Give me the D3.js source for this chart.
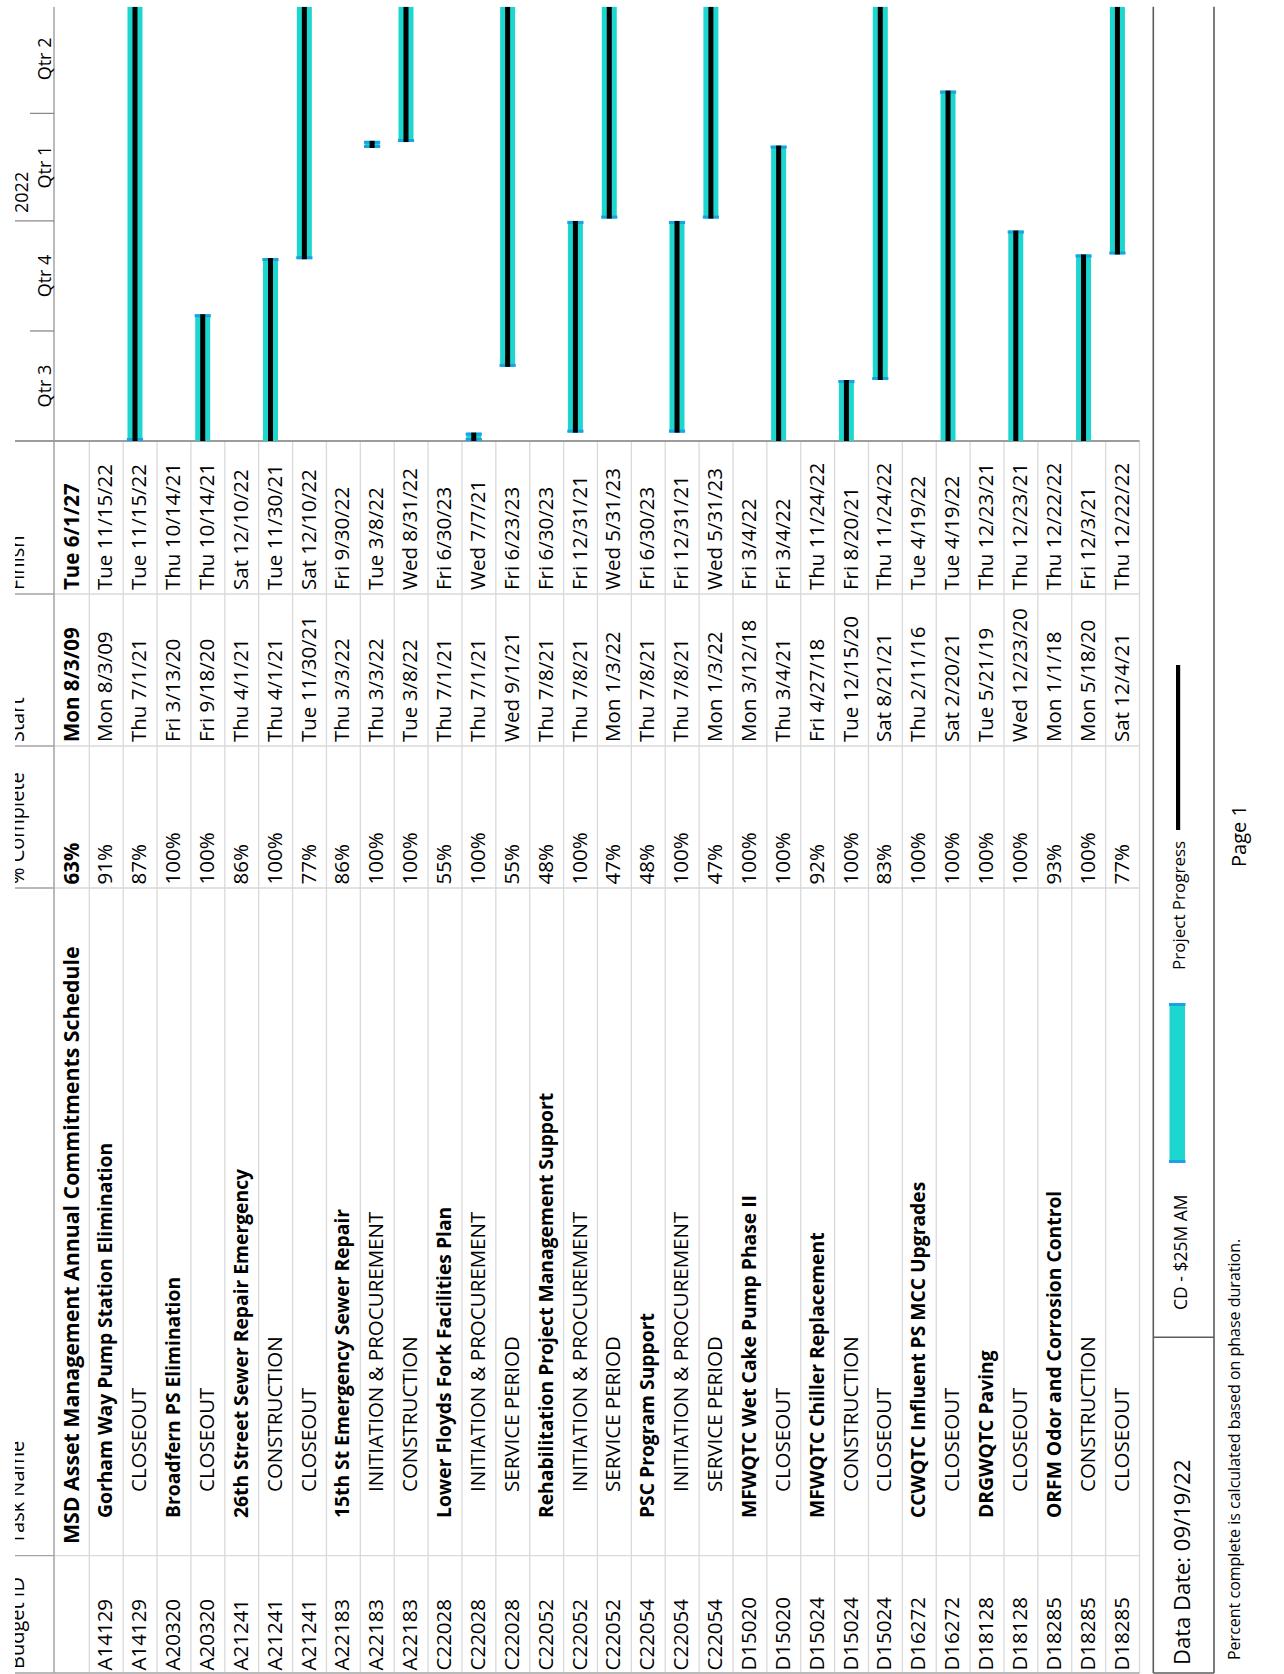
<!DOCTYPE html>
<html><head><meta charset="utf-8">
<script src="https://cdn.jsdelivr.net/npm/d3@7"></script>
<style>
html,body{margin:0;padding:0;background:#fff;}
svg{display:block;font-family:"Open Sans",sans-serif;}
</style></head><body>
<svg id="chart" width="1284" height="1674"></svg>
<script>
// ---------------- DATA ----------------
const budgetIds = ["", "A14129","A14129","A20320","A20320","A21241","A21241","A21241","A22183","A22183","A22183",
  "C22028","C22028","C22028","C22052","C22052","C22052","C22054","C22054","C22054",
  "D15020","D15020","D15024","D15024","D15024","D16272","D16272","D18128","D18128","D18285","D18285","D18285"];
const taskNames = ["MSD Asset Management Annual Commitments Schedule",
  "Gorham Way Pump Station Elimination","CLOSEOUT",
  "Broadfern PS Elimination","CLOSEOUT",
  "26th Street Sewer Repair Emergency","CONSTRUCTION","CLOSEOUT",
  "15th St Emergency Sewer Repair","INITIATION & PROCUREMENT","CONSTRUCTION",
  "Lower Floyds Fork Facilities Plan","INITIATION & PROCUREMENT","SERVICE PERIOD",
  "Rehabilitation Project Management Support","INITIATION & PROCUREMENT","SERVICE PERIOD",
  "PSC Program Support","INITIATION & PROCUREMENT","SERVICE PERIOD",
  "MFWQTC Wet Cake Pump Phase II","CLOSEOUT",
  "MFWQTC Chiller Replacement","CONSTRUCTION","CLOSEOUT",
  "CCWQTC Influent PS MCC Upgrades","CLOSEOUT",
  "DRGWQTC Paving","CLOSEOUT",
  "ORFM Odor and Corrosion Control","CONSTRUCTION","CLOSEOUT"];
const outlineLevels = [0,1,2,1,2,1,2,2,1,2,2,1,2,2,1,2,2,1,2,2,1,2,1,2,2,1,2,1,2,1,2,2];
const pctComplete = [63,91,87,100,100,86,100,77,86,100,100,55,100,55,48,100,47,48,100,47,100,100,92,100,83,100,100,100,100,93,100,77];
const startDates = ["2009-08-03","2009-08-03","2021-07-01","2020-03-13","2020-09-18","2021-04-01","2021-04-01","2021-11-30",
  "2022-03-03","2022-03-03","2022-03-08","2021-07-01","2021-07-01","2021-09-01","2021-07-08","2021-07-08","2022-01-03",
  "2021-07-08","2021-07-08","2022-01-03","2018-03-12","2021-03-04","2018-04-27","2020-12-15","2021-08-21",
  "2016-02-11","2021-02-20","2019-05-21","2020-12-23","2018-01-01","2020-05-18","2021-12-04"];
const finishDates = ["2027-06-01","2022-11-15","2022-11-15","2021-10-14","2021-10-14","2022-12-10","2021-11-30","2022-12-10",
  "2022-09-30","2022-03-08","2022-08-31","2023-06-30","2021-07-07","2023-06-23","2023-06-30","2021-12-31","2023-05-31",
  "2023-06-30","2021-12-31","2023-05-31","2022-03-04","2022-03-04","2022-11-24","2021-08-20","2022-11-24",
  "2022-04-19","2022-04-19","2021-12-23","2021-12-23","2022-12-22","2021-12-03","2022-12-22"];
const columnHeaders = ["Budget ID","Task Name","% Complete","Start","Finish"];
const timeWindow = ["2021-07-01","2022-07-01"];
const legendLabels = ["CD - $25M AM","Project Progress"];
const dataDateLabel = "Data Date: 09/19/22";
const footnote = "Percent complete is calculated based on phase duration.";
const pageLabel = "Page 1";

// ---------------- SETUP ----------------
const W = 1284, H = 1674;
const parse = d3.timeParse("%Y-%m-%d");
const fmt = d3.timeFormat("%a %-m/%-d/%y");
const rows = taskNames.map((n,i)=>({
  i, id: budgetIds[i], name: n, level: outlineLevels[i], pct: pctComplete[i],
  start: parse(startDates[i]), finish: parse(finishDates[i])
}));

const svg = d3.select("#chart");
const defs = svg.append("defs");
// landscape page rotated counter-clockwise
const page = svg.append("g").attr("transform", `translate(0,${H}) rotate(-90)`);
defs.append("clipPath").attr("id","pageClip").append("rect")
  .attr("x",-5).attr("y",15).attr("width",1672.3).attr("height",1300);
const g = page.append("g").attr("clip-path","url(#pageClip)");

// landscape geometry
const colX = [1, 118.3, 786, 928, 1080, 1233];
const ganttRight = 1667.3;
const headerTop = 15, headerBottom = 54, tableBottom = 1139.5;
const rowScale = d3.scaleLinear().domain([1, 32]).range([89.3, tableBottom]);
const rowTop = i => i === 0 ? headerBottom : rowScale(i);

const x = d3.scaleTime().domain(timeWindow.map(parse)).range([1233, 1669.5]);

const light = "#d9d9d9", mid = "#a3a3a3";

// ---------------- TABLE GRID ----------------
const grid = g.append("g");
grid.selectAll("line.row").data(d3.range(1,33)).join("line")
  .attr("x1",colX[0]).attr("x2",colX[5])
  .attr("y1",d=>rowTop(d)).attr("y2",d=>rowTop(d))
  .attr("stroke",light).attr("stroke-width",1.3);
grid.selectAll("line.col").data(colX.slice(1,5)).join("line")
  .attr("x1",d=>d).attr("x2",d=>d).attr("y1",headerBottom).attr("y2",tableBottom)
  .attr("stroke",light).attr("stroke-width",1.3);
grid.selectAll("line.hcol").data(colX.slice(1,5)).join("line")
  .attr("x1",d=>d).attr("x2",d=>d).attr("y1",headerTop).attr("y2",headerBottom)
  .attr("stroke",mid).attr("stroke-width",1.3);
grid.append("line").attr("x1",colX[0]).attr("x2",colX[0]).attr("y1",headerTop).attr("y2",tableBottom)
  .attr("stroke",mid).attr("stroke-width",1.3);
grid.append("line").attr("x1",colX[0]).attr("x2",ganttRight).attr("y1",headerBottom).attr("y2",headerBottom)
  .attr("stroke",mid).attr("stroke-width",1.5);
grid.append("line").attr("x1",x.range()[0]).attr("x2",x.range()[0]).attr("y1",headerTop).attr("y2",tableBottom)
  .attr("stroke","#9c9c9c").attr("stroke-width",2);

// ---------------- HEADER LABELS ----------------
const headerX = [5, 130, 790, 932, 1084];
g.selectAll("text.hdr").data(columnHeaders).join("text")
  .attr("x",(d,i)=>headerX[i]).attr("y",23.5)
  .attr("font-size",20).attr("fill","#000").text(d=>d);

// ---------------- TABLE TEXT ----------------
const fs = 20.5;
const base = i => rowTop(i) + (i === 0 ? 25.3 : 23);
const nameSize = d => d.level === 0 ? 21.3 : d.level === 1 ? 19.3 : fs;
const tx = g.append("g").attr("font-size",fs).attr("fill","#000");
tx.selectAll("text.id").data(rows).join("text")
  .attr("x",3.5).attr("y",d=>base(d.i)).text(d=>d.id);
tx.selectAll("text.nm").data(rows).join("text")
  .attr("x",d=>130 + d.level*26).attr("y",d=>base(d.i))
  .attr("font-size",nameSize)
  .attr("font-weight",d=>d.level<2?"bold":"normal").text(d=>d.name);
tx.selectAll("text.pc").data(rows).join("text")
  .attr("x",789.5).attr("y",d=>base(d.i))
  .attr("font-weight",d=>d.level===0?"bold":"normal").text(d=>d.pct+"%");
tx.selectAll("text.st").data(rows).join("text")
  .attr("x",932).attr("y",d=>base(d.i))
  .attr("font-weight",d=>d.level===0?"bold":"normal").text(d=>fmt(d.start));
tx.selectAll("text.fn").data(rows).join("text")
  .attr("x",1084).attr("y",d=>base(d.i))
  .attr("font-weight",d=>d.level===0?"bold":"normal").text(d=>fmt(d.finish));

// ---------------- TIMESCALE ----------------
defs.append("clipPath").attr("id","ganttClip").append("rect")
  .attr("x",x.range()[0]).attr("y",0).attr("width",ganttRight - x.range()[0]).attr("height",1200);
const ts = g.append("g").attr("clip-path","url(#ganttClip)");
const [d0,d1] = x.domain();
const quarters = d3.timeMonth.every(3).range(d0, d1);
ts.selectAll("line.q").data(quarters.filter(d=>+d>+d0 && d.getMonth()!==0)).join("line")
  .attr("x1",d=>x(d)).attr("x2",d=>x(d)).attr("y1",30).attr("y2",headerBottom)
  .attr("stroke","#8a8a8a").attr("stroke-width",1.3);
const years = d3.timeYear.range(d0, d1);
ts.selectAll("line.y").data(years).join("line")
  .attr("x1",d=>x(d)).attr("x2",d=>x(d)).attr("y1",headerTop).attr("y2",headerBottom)
  .attr("stroke","#8a8a8a").attr("stroke-width",1.3);
ts.selectAll("text.y").data(years).join("text")
  .attr("x",d=>x(d)+8).attr("y",28.3).attr("font-size",18).attr("fill","#000")
  .text(d3.timeFormat("%Y"));
ts.selectAll("text.q").data(quarters).join("text")
  .attr("x",d=>{const e=d3.timeMonth.offset(d,3); return (x(d)+x(e))/2;})
  .attr("y",51.3).attr("text-anchor","middle").attr("font-size",18).attr("fill","#000")
  .text(d=>"Qtr "+(Math.floor(d.getMonth()/3)+1));

// ---------------- BARS ----------------
const cyan = "#1ed6d0", capBlue = "#1aa3e0";
const barOff = 4.3, barH = 15, progH = 5;
const tasks = rows.filter(d=>d.level===2);
const endOf = d => d3.timeDay.offset(d.finish,1);
const bars = ts.append("g");
bars.selectAll("rect.bar").data(tasks).join("rect")
  .attr("x",d=>x(d.start)).attr("width",d=>Math.max(1,x(endOf(d))-x(d.start)))
  .attr("y",d=>rowTop(d.i)+barOff).attr("height",barH).attr("fill",cyan);
// caps
bars.selectAll("rect.cs").data(tasks).join("rect")
  .attr("x",d=>x(d.start)).attr("width",3)
  .attr("y",d=>rowTop(d.i)+barOff-0.6).attr("height",barH+1.2).attr("fill",capBlue);
bars.selectAll("rect.ce").data(tasks).join("rect")
  .attr("x",d=>x(endOf(d))-3).attr("width",3)
  .attr("y",d=>rowTop(d.i)+barOff-0.6).attr("height",barH+1.2).attr("fill",capBlue);
// progress
bars.selectAll("rect.pr").data(tasks).join("rect")
  .attr("x",d=>x(d.start))
  .attr("width",d=>{const e=new Date(+d.start + (endOf(d)-d.start)*d.pct/100); return Math.max(1,x(e)-x(d.start));})
  .attr("y",d=>rowTop(d.i)+barOff+(barH-progH)/2).attr("height",progH).attr("fill","#000");

// ---------------- LEGEND BOX / FOOTER ----------------
const dark = "#5c5c5c";
const lg = page.append("g");
[1153.3, 1214].forEach(yy=>lg.append("line").attr("x1",1).attr("x2",ganttRight)
  .attr("y1",yy).attr("y2",yy).attr("stroke",dark).attr("stroke-width",1.6));
lg.append("line").attr("x1",336.7).attr("x2",336.7).attr("y1",1153.3).attr("y2",1214)
  .attr("stroke",dark).attr("stroke-width",1.4);
lg.append("line").attr("x1",1).attr("x2",1).attr("y1",1153.3).attr("y2",1214)
  .attr("stroke",dark).attr("stroke-width",1.4);
lg.append("text").attr("x",9).attr("y",1190).attr("font-size",22).attr("fill","#000").text(dataDateLabel);
lg.append("text").attr("x",364).attr("y",1187).attr("font-size",17.5).attr("fill","#000").text(legendLabels[0]);
lg.append("rect").attr("x",511).attr("y",1169.5).attr("width",160).attr("height",15.5).attr("fill",cyan);
lg.append("rect").attr("x",511).attr("y",1169).attr("width",3).attr("height",16.5).attr("fill",capBlue);
lg.append("rect").attr("x",668).attr("y",1169).attr("width",3).attr("height",16.5).attr("fill",capBlue);
lg.append("text").attr("x",704).attr("y",1184.5).attr("font-size",17).attr("fill","#000").text(legendLabels[1]);
lg.append("rect").attr("x",844).attr("y",1176).attr("width",165).attr("height",4.2).attr("fill","#000");
lg.append("text").attr("x",14).attr("y",1240).attr("font-size",16).attr("fill","#000").text(footnote);
lg.append("text").attr("x",838).attr("y",1246).attr("text-anchor","middle").attr("font-size",20).attr("fill","#000").text(pageLabel);
</script>
</body></html>
